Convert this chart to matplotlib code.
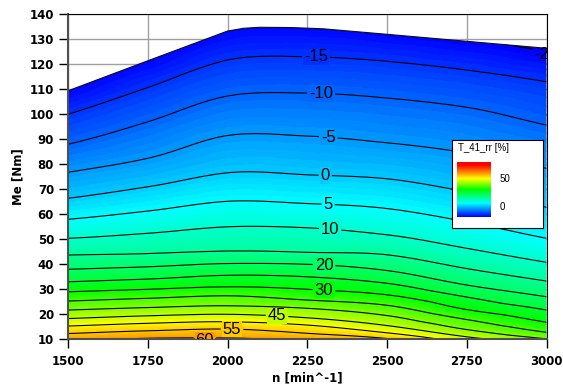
import numpy as np
import matplotlib
matplotlib.use('Agg')
import matplotlib.pyplot as plt
import matplotlib.tri as mtri
from matplotlib.patches import Polygon
from matplotlib.colors import LinearSegmentedColormap, Normalize

plt.rcParams['font.family'] = ['Liberation Sans', 'DejaVu Sans']

nan = np.nan

# engine speed columns [min^-1]
speeds = [1500, 1750, 2000, 2250, 2500, 2750, 3000]
# T_41_rr iso lines [%]
iso_levels = [-15, -10, -5, 0, 5, 10, 15, 20, 25, 30, 35, 40, 45, 50, 55, 60]
# torque [Nm] where each iso line crosses the speed column (nan = below 10 Nm)
me_1500 = [100.0, 88.0, 76.8, 66.4, 58.0, 50.4, 43.7, 38.0, 33.0, 29.0, 25.3, 21.7, 18.3, 15.3, 12.3, nan]
me_1750 = [110.7, 97.0, 82.4, 71.0, 61.3, 52.4, 44.3, 39.0, 34.1, 30.0, 26.4, 22.7, 19.4, 16.4, 13.4, nan]
me_2000 = [121.7, 107.3, 91.5, 76.6, 65.2, 55.0, 45.3, 40.3, 35.6, 31.0, 27.4, 23.4, 20.0, 17.0, 14.1, 10.5]
me_2250 = [123.0, 108.5, 91.3, 75.8, 64.3, 54.6, 44.8, 40.0, 35.0, 30.0, 25.7, 22.4, 18.6, 15.7, 12.4, nan]
me_2500 = [121.2, 106.5, 88.6, 74.2, 62.3, 51.8, 43.8, 37.5, 32.4, 27.8, 23.6, 19.5, 15.5, 12.6, 10.3, nan]
me_2750 = [117.7, 102.8, 84.5, 69.0, 57.0, 46.4, 38.3, 31.7, 26.9, 21.9, 17.9, 13.9, 11.0, nan, nan, nan]
me_3000 = [113.0, 95.7, 78.4, 62.8, 50.4, 40.8, 33.3, 27.0, 21.7, 16.8, 12.8, nan, nan, nan, nan, nan]
me_columns = [me_1500, me_1750, me_2000, me_2250, me_2500, me_2750, me_3000]

# value along the 10 Nm bottom edge
bottom_me = 10
bottom_value = [58.8, 60.7, 62.0, 58.6, 55.5, 47.0, 40.3]

# full load curve and value along it
full_n = [1500, 1750, 2000, 2050, 2100, 2200, 2300, 2500, 2750, 3000]
full_me = [109.4, 121.4, 133.3, 134.4, 134.8, 134.7, 134.2, 132.0, 129.2, 126.4]
full_value = [-19.3, -19.3, -19.3, -19.3, -19.3, -19.3, -19.3, -19.4, -19.6, -20.4]
# helper row above the full load curve (hidden by clipping)
cap_me = 146
cap_value = -23

# label positions (n, Me)
label_pos = [(2277, 121.7), (2293, 106.9), (2315, 89.7), (2306, 74.9), (2315, 62.9),
             (2321, 52.9), (2302, 38.5), (2302, 28.5), (2155, 18.5), (2014, 12.9),
             (1929, 10.3), (3000, 125.0)]

pn, pm, pz = [], [], []
for n, col, zb in zip(speeds, me_columns, bottom_value):
    for lev, me in zip(iso_levels, col):
        if not np.isnan(me):
            pn.append(n); pm.append(me); pz.append(lev)
    pn.append(n); pm.append(bottom_me); pz.append(zb)
for n, me, z in zip(full_n, full_me, full_value):
    pn.append(n); pm.append(me); pz.append(z)
    pn.append(n); pm.append(cap_me); pz.append(cap_value)
pn = np.array(pn, float); pm = np.array(pm, float); pz = np.array(pz, float)

# triangulate and interpolate in roughly pixel-scaled coordinates
sx, sy = 0.32, 2.5
tri_px = mtri.Triangulation(pn * sx, pm * sy)
interp = mtri.CubicTriInterpolator(tri_px, pz, kind='geom')
N, M = np.meshgrid(np.linspace(1500, 3000, 500), np.linspace(10, 140, 400))
Z = interp(N * sx, M * sy)

cmap = LinearSegmentedColormap.from_list('t41', [
    (0.0, (0, 0, 1)), (0.25, (0, 1, 1)), (0.5, (0, 1, 0)),
    (0.70, (1, 1, 0)), (0.95, (1, 0, 0)), (1.0, (1, 0, 0))])
norm = Normalize(-20, 80)

fig = plt.figure(figsize=(5.63, 3.85), dpi=100)
ax = fig.add_axes([68 / 563, 45.7 / 385, 478.5 / 563, 325 / 385])

region = Polygon(list(zip(full_n, full_me)) + [(3000, 10), (1500, 10)], closed=True,
                 transform=ax.transData, facecolor='none', edgecolor='none')

cf = ax.contourf(N, M, Z, levels=np.arange(-24, 67, 1.0), cmap=cmap, norm=norm)
cf.set_clip_path(region)
cs = ax.contour(N, M, Z, levels=np.arange(-20, 65, 5), colors='black',
                linewidths=0.8, linestyles='solid')
cs.set_clip_path(region)
ax.plot(full_n, full_me, color='#101010', lw=0.8)

texts = cs.clabel(manual=label_pos, inline=True, fmt='%d', fontsize=12, inline_spacing=2)
for t in texts:
    lev = float(t.get_text())
    t.set_rotation(0)
    t.set_clip_on(True)
    if lev == -20:
        t.set_position((t.get_position()[0], 124.0))
        continue
    t.set_bbox(dict(facecolor=cmap(norm(lev)), edgecolor='none', pad=0.5))
    if lev == 60:
        t.set_position((t.get_position()[0], 9.6))

ax.set_xlim(1500, 3000)
ax.set_ylim(10, 140)
ax.set_xticks(np.arange(1500, 3001, 250))
ax.set_yticks(np.arange(10, 141, 10))
ax.set_axisbelow(True)
ax.grid(True, color='#a0a0a0', lw=1)
ax.tick_params(direction='out', length=6.5, width=1, colors='black')
ax.tick_params(axis='x', pad=4.5)
ax.tick_params(axis='y', pad=3.5)
for lab in ax.get_xticklabels() + ax.get_yticklabels():
    lab.set_fontweight('bold')
    lab.set_family('DejaVu Sans')
    lab.set_fontsize(8.5)
ax.set_xlabel('n [min^-1]', fontsize=8.5, fontweight='bold', family='DejaVu Sans', labelpad=2.5)
ax.set_ylabel('Me [Nm]', fontsize=8.5, fontweight='bold', family='DejaVu Sans', labelpad=4)
for s in ['left', 'bottom']:
    ax.spines[s].set_color('#505050')
    ax.spines[s].set_linewidth(1.5)
for s in ['top', 'right']:
    ax.spines[s].set_linewidth(0.8)

# legend box with colour bar
leg = fig.add_axes([452 / 563, (385 - 228) / 385, 91 / 563, 88 / 385])
leg.set_xticks([]); leg.set_yticks([])
leg.set_facecolor('white')
for s in leg.spines.values():
    s.set_linewidth(0.8)
leg.text(6 / 91, 1 - 8 / 88, 'T_41_rr [%]', fontsize=7, va='center', ha='left', transform=leg.transAxes)

cb = fig.add_axes([457 / 563, (385 - 217) / 385, 34 / 563, 55 / 385])
grad = np.linspace(-20, 80, 200).reshape(-1, 1)
cb.imshow(grad, aspect='auto', cmap=cmap, norm=norm, origin='lower', extent=[0, 1, -20, 80])
cb.set_xticks([])
cb.yaxis.tick_right()
cb.set_yticks([0, 50])
cb.tick_params(axis='y', length=0, labelsize=7, pad=6)
for s in cb.spines.values():
    s.set_visible(False)

fig.savefig('out.png', dpi=100)
